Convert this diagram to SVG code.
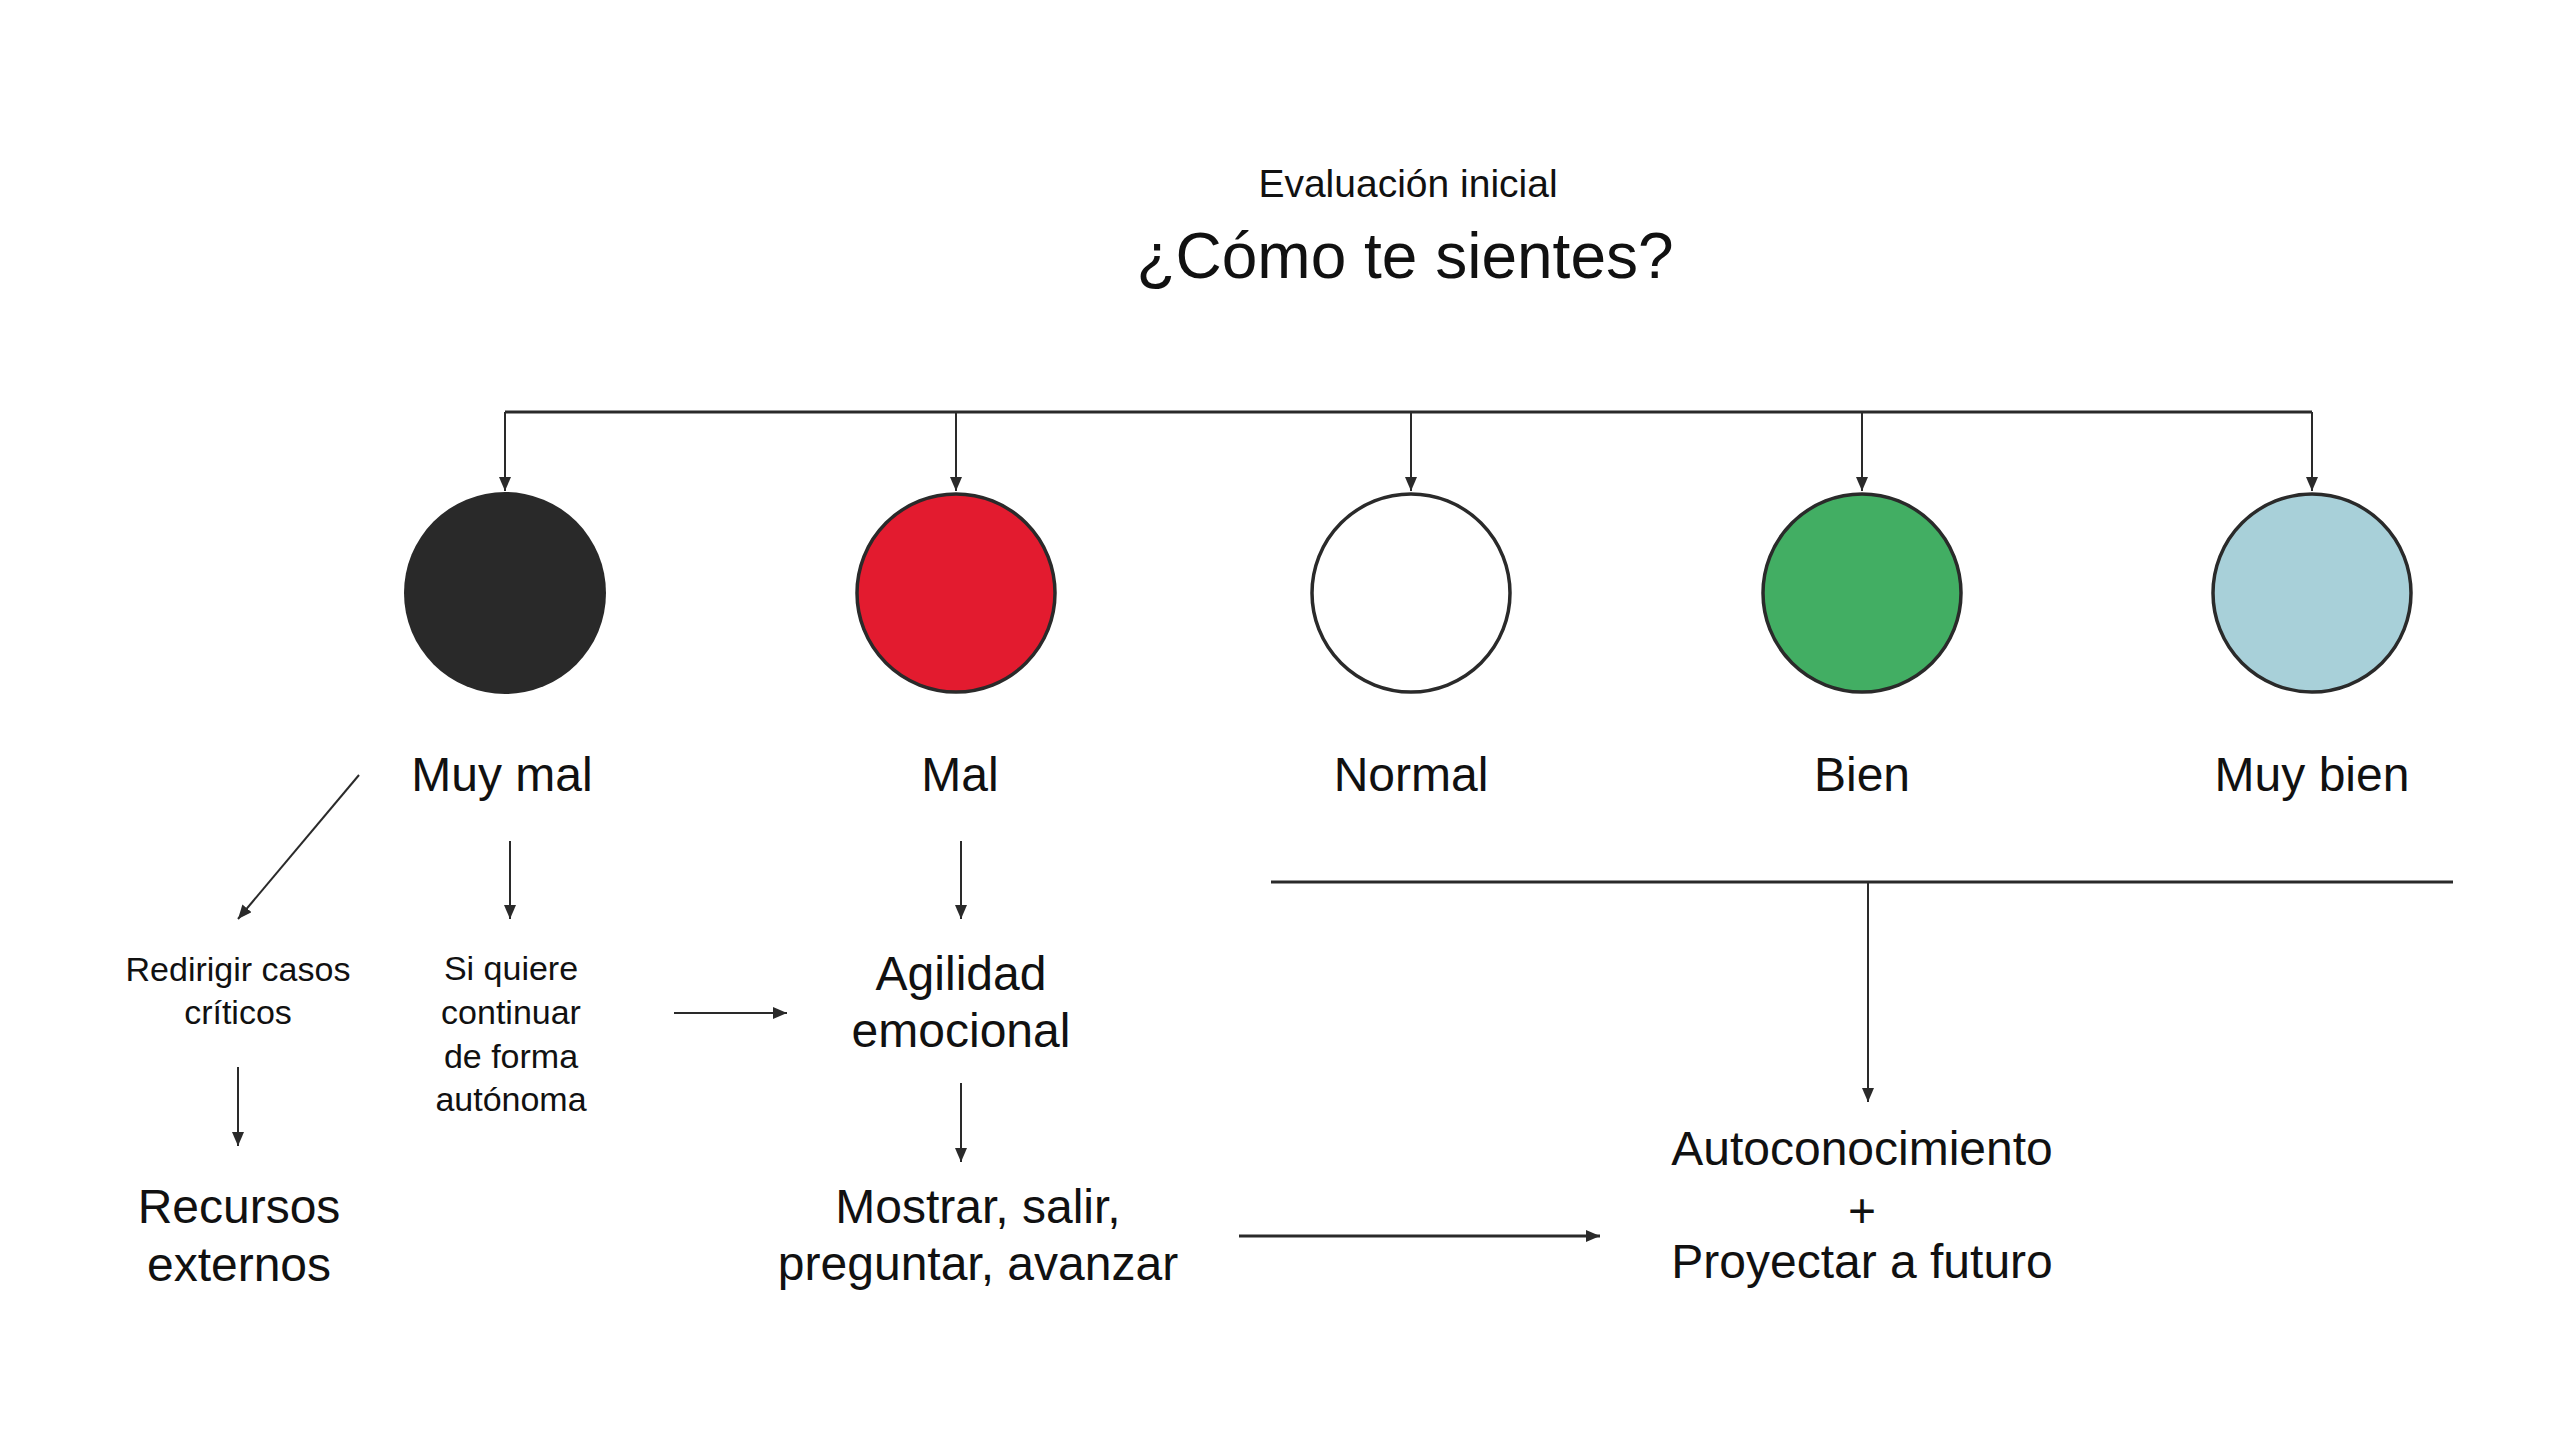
<svg xmlns="http://www.w3.org/2000/svg" width="2560" height="1440" viewBox="0 0 2560 1440">
<style>
.t{font-family:"Liberation Sans",Arial,sans-serif;fill:#111;text-anchor:middle}
.big{font-size:48px}
.sm{font-size:34px}
.ln{stroke:#2a2a2a;stroke-width:2;fill:none}
.lnb{stroke:#2a2a2a;stroke-width:3;fill:none}
.c{stroke:#2a2a2a;stroke-width:3.5}
</style>
<defs>
<marker id="ah" viewBox="0 0 14 12" refX="14" refY="6" markerWidth="14" markerHeight="12" markerUnits="userSpaceOnUse" orient="auto">
<path d="M0,0 L14,6 L0,12 z" fill="#2a2a2a"/>
</marker>
</defs>
<rect width="2560" height="1440" fill="#fff"/>
<g id="title">
<text class="t" x="1408" y="197" font-size="39">Evaluación inicial</text>
<text class="t" x="1405" y="278" font-size="64">¿Cómo te sientes?</text>
</g>
<g id="connectors">
<path class="lnb" d="M505,412 H2312"/>
<path class="ln" d="M505,412 V491" marker-end="url(#ah)"/>
<path class="ln" d="M956,412 V491" marker-end="url(#ah)"/>
<path class="ln" d="M1411,412 V491" marker-end="url(#ah)"/>
<path class="ln" d="M1862,412 V491" marker-end="url(#ah)"/>
<path class="ln" d="M2312,412 V491" marker-end="url(#ah)"/>
<path class="ln" d="M359,775 L238,919" marker-end="url(#ah)"/>
<path class="ln" d="M510,841 V919" marker-end="url(#ah)"/>
<path class="ln" d="M961,841 V919" marker-end="url(#ah)"/>
<path class="ln" d="M674,1013 H787" marker-end="url(#ah)"/>
<path class="ln" d="M238,1067 V1146" marker-end="url(#ah)"/>
<path class="ln" d="M961,1083 V1162" marker-end="url(#ah)"/>
<path class="lnb" d="M1271,882 H2453"/>
<path class="ln" d="M1868,882 V1102" marker-end="url(#ah)"/>
<path class="lnb" d="M1239,1236 H1600" marker-end="url(#ah)"/>
</g>
<g id="muy-mal">
<circle cx="505" cy="593" r="101" fill="#292929"/>
<text class="t big" x="502" y="791">Muy mal</text>
</g>
<g id="mal">
<circle class="c" cx="956" cy="593" r="99" fill="#e31b2f"/>
<text class="t big" x="960" y="791">Mal</text>
</g>
<g id="normal">
<circle class="c" cx="1411" cy="593" r="99" fill="#ffffff"/>
<text class="t big" x="1411" y="791">Normal</text>
</g>
<g id="bien">
<circle class="c" cx="1862" cy="593" r="99" fill="#42ae63"/>
<text class="t big" x="1862" y="791">Bien</text>
</g>
<g id="muy-bien">
<circle class="c" cx="2312" cy="593" r="99" fill="#a8d0d9"/>
<text class="t big" x="2312" y="791">Muy bien</text>
</g>
<g id="redirigir">
<text class="t sm" x="238" y="981">Redirigir casos</text>
<text class="t sm" x="238" y="1024">críticos</text>
</g>
<g id="si-quiere">
<text class="t sm" x="511" y="980">Si quiere</text>
<text class="t sm" x="511" y="1024">continuar</text>
<text class="t sm" x="511" y="1068">de forma</text>
<text class="t sm" x="511" y="1111">autónoma</text>
</g>
<g id="agilidad">
<text class="t big" x="961" y="990">Agilidad</text>
<text class="t big" x="961" y="1047">emocional</text>
</g>
<g id="recursos">
<text class="t big" x="239" y="1223">Recursos</text>
<text class="t big" x="239" y="1281">externos</text>
</g>
<g id="mostrar">
<text class="t big" x="978" y="1223">Mostrar, salir,</text>
<text class="t big" x="978" y="1280">preguntar, avanzar</text>
</g>
<g id="autoconocimiento">
<text class="t big" x="1862" y="1165">Autoconocimiento</text>
<text class="t big" x="1862" y="1227">+</text>
<text class="t big" x="1862" y="1278">Proyectar a futuro</text>
</g>
</svg>
